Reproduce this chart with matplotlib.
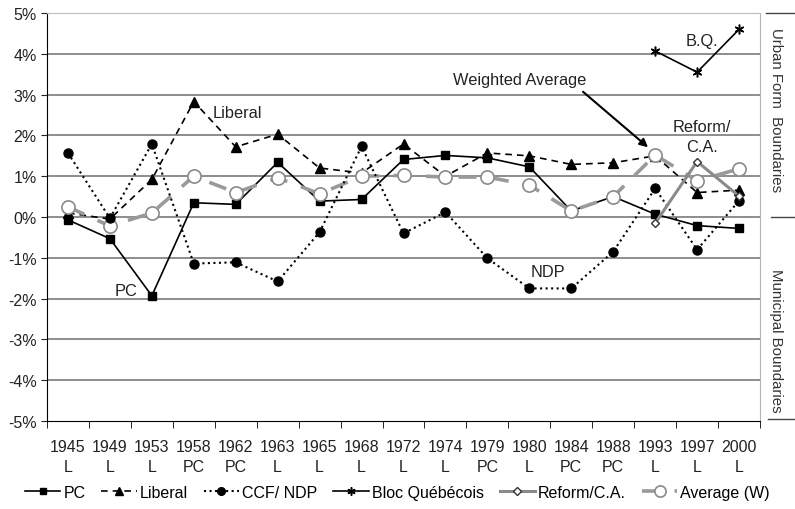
from matplotlib.ticker import FuncFormatter
import matplotlib.pyplot as plt
import numpy as np

plt.rcParams['font.family'] = ['Liberation Sans', 'DejaVu Sans']

years = ['1945', '1949', '1953', '1958', '1962', '1963', '1965', '1968', '1972',
         '1974', '1979', '1980', '1984', '1988', '1993', '1997', '2000']
winners = ['L', 'L', 'L', 'PC', 'PC', 'L', 'L', 'L', 'L', 'L', 'PC', 'L', 'PC', 'PC', 'L', 'L', 'L']

pc = [-0.07, -0.53, -1.93, 0.35, 0.31, 1.34, 0.39, 0.43, 1.41, 1.51, 1.45, 1.23, 0.15, 0.5, 0.07, -0.21, -0.28]
liberal = [0.1, -0.05, 0.92, 2.83, 1.72, 2.03, 1.2, 1.08, 1.79, 1.0, 1.57, 1.5, 1.29, 1.33, 1.5, 0.6, 0.66]
ndp = [1.57, -0.03, 1.79, -1.14, -1.11, -1.58, -0.37, 1.73, -0.4, 0.12, -1.01, -1.75, -1.75, -0.85, 0.7, -0.8, 0.4]
avg = [0.25, -0.22, 0.1, 1.0, 0.6, 0.96, 0.57, 1.0, 1.02, 0.98, 0.98, 0.78, 0.15, 0.5, 1.52, 0.89, 1.18]
late_years = ['1993', '1997', '2000']
bq = [4.07, 3.55, 4.6]
reform = [-0.15, 1.36, 0.51]

x = np.arange(len(years))
xl = np.array([years.index(y) for y in late_years])

fig = plt.figure(figsize=(7.95, 5.1), dpi=100)
ax = fig.add_axes([0.0591, 0.1725, 0.8969, 0.80])

for v in range(-4, 5):
    ax.axhline(v, color='#858585', lw=1.3, zorder=0)

h_pc, = ax.plot(x, pc, color='black', lw=1.2, marker='s', ms=5.5, zorder=3, label='PC')
h_lib, = ax.plot(x, liberal, color='black', lw=1.2, dashes=(4, 3), marker='^', ms=6.5,
                 zorder=3, label='Liberal')
h_avg, = ax.plot(x, avg, color='#9a9a9a', lw=2.6, dashes=(5, 4), marker='o', ms=9.5,
                 mfc='white', mec='#8a8a8a', mew=1.2, zorder=4, label='Average (W)')
h_ndp, = ax.plot(x, ndp, color='black', lw=1.5, ls=':', marker='o', ms=6.5, zorder=5,
                 label='CCF/ NDP')
h_bq, = ax.plot(xl, bq, color='black', lw=1.2, marker=(6, 2, 0), ms=7, mew=1.1, zorder=5,
                label='Bloc Québécois')
h_ref, = ax.plot(xl, reform, color='#8a8a8a', lw=2.2, marker='D', ms=4.5, mfc='white',
                 mec='#333333', mew=1.0, zorder=6, label='Reform/C.A.')

ax.set_xlim(-0.5, len(years) - 0.5)
ax.set_ylim(-5, 5)
ax.set_yticks(range(-5, 6))
ax.yaxis.set_major_formatter(FuncFormatter(lambda v, p: '%d%%' % v))
ax.set_xticks(x)
ax.set_xticklabels(['%s\n%s' % (y, w) for y, w in zip(years, winners)], linespacing=1.4)
ax.set_xticks(np.arange(-0.5, len(years), 1), minor=True)
ax.tick_params(axis='x', which='major', length=0, pad=13, labelsize=11.5, colors='#222222')
ax.tick_params(axis='x', which='minor', length=5, direction='out', color='black')
ax.tick_params(axis='y', length=4, direction='out', labelsize=11.5, colors='#222222')

ax.spines['top'].set_color('#bdbdbd')
ax.spines['right'].set_color('#b5b5b5')
ax.spines['left'].set_color('black')
ax.spines['bottom'].set_color('black')

fs = 11.8
ax.text(3.46, 2.56, 'Liberal', ha='left', va='center', fontsize=fs, color='#222222')
ax.text(1.38, -1.8, 'PC', ha='center', va='center', fontsize=fs, color='#222222')
ax.text(11.45, -1.34, 'NDP', ha='center', va='center', fontsize=fs, color='#222222')
ax.text(15.12, 4.32, 'B.Q.', ha='center', va='center', fontsize=fs, color='#222222')
ax.text(15.12, 1.97, 'Reform/\nC.A.', ha='center', va='center', fontsize=fs,
        color='#222222', linespacing=1.4)
ax.text(10.78, 3.37, 'Weighted Average', ha='center', va='center', fontsize=fs, color='#222222')
ax.annotate('', xy=(13.83, 1.71), xytext=(12.28, 3.07),
            arrowprops=dict(arrowstyle='-|>', color='black', lw=1.5, mutation_scale=12,
                            shrinkA=0, shrinkB=0))

# right-hand bracket: boundary categories
yt = ax.get_yaxis_transform()
ax.plot([1.008, 1.05], [5, 5], transform=yt, clip_on=False, color='#444444', lw=1)
ax.plot([1.016, 1.05], [0, 0], transform=yt, clip_on=False, color='#444444', lw=1)
ax.plot([1.011, 1.05], [-4.95, -4.95], transform=yt, clip_on=False, color='#444444', lw=1)
ax.text(1.022, 2.65, 'Urban Form  Boundaries', transform=yt, rotation=-90, ha='center',
        va='center', fontsize=10.8, color='#333333')
ax.text(1.022, -3.0, 'Municipal Boundaries', transform=yt, rotation=-90, ha='center',
        va='center', fontsize=10.8, color='#333333')

fig.legend([h_pc, h_lib, h_ndp, h_bq, h_ref, h_avg],
           ['PC', 'Liberal', 'CCF/ NDP', 'Bloc Québécois', 'Reform/C.A.', 'Average (W)'],
           loc='center', bbox_to_anchor=(0.5, 0.033), ncol=6, frameon=False,
           handlelength=2.2, columnspacing=1.0, handletextpad=0.2, fontsize=11.5,
           markerscale=0.85)

fig.savefig('out.png', dpi=100)
